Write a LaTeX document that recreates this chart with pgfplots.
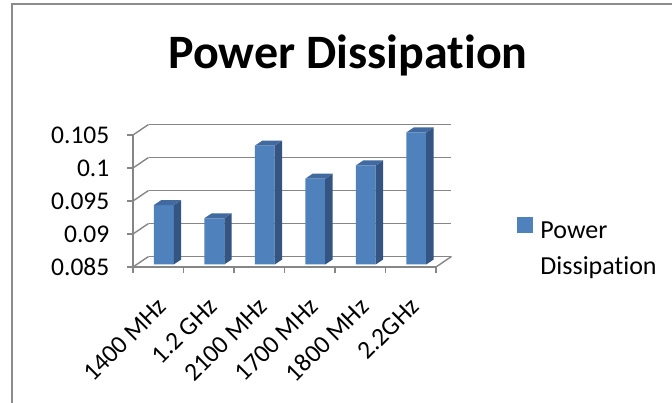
\documentclass[border=0pt]{standalone}
\usepackage{pgfplots}
\pgfplotsset{compat=1.18}
\usepackage{fontspec}
\setmainfont{Carlito}[Ligatures=NoCommon]
\definecolor{gridcol}{RGB}{134,134,134}
\definecolor{framecol}{RGB}{140,140,140}
\definecolor{barfront}{RGB}{79,129,189}
\definecolor{barside}{RGB}{52,85,130}
\definecolor{bartop}{RGB}{64,106,160}
\pgfplotstableread{
x   y
0.5 0.094
1.5 0.092
2.5 0.103
3.5 0.098
4.5 0.100
5.5 0.105
}\powertable
\newcommand\barfaces[2]{%
  \pgfmathsetmacro\xl{#1-0.198}%
  \pgfmathsetmacro\xr{#1+0.198}%
  \pgfmathsetmacro\xrr{#1+0.3465}%
  \pgfmathsetmacro\xlr{#1-0.0495}%
  \pgfmathsetmacro\yt{#2+0.00076}%
  \edef\doit{%
    \noexpand\addplot[fill=barside, draw=none, forget plot] coordinates {(\xr,0.085) (\xrr,0.08576) (\xrr,\yt) (\xr,#2)};
    \noexpand\addplot[fill=bartop, draw=none, forget plot] coordinates {(\xl,#2) (\xr,#2) (\xrr,\yt) (\xlr,\yt)};
  }\doit}
\begin{document}
\begin{tikzpicture}
% back wall grid
\begin{axis}[at={(148.5bp,146.5bp)}, anchor=south west, scale only axis,
  width=303bp, height=132bp, xmin=0, xmax=6, ymin=0.085, ymax=0.105,
  enlargelimits=false, axis line style={draw=none}, xtick=\empty,
  ytick={0.085,0.09,0.095,0.1,0.105}, yticklabels={}, major tick length=0pt,
  ymajorgrids, grid style={gridcol, line width=1.4bp}]
\addplot[draw=none, forget plot] coordinates {(0,0.09)};
\end{axis}
% front plane: axes, ticks, side-wall lines, legend
\begin{axis}[at={(133bp,136bp)}, anchor=south west, scale only axis,
  width=303bp, height=132bp, xmin=0, xmax=6, ymin=0.085, ymax=0.105,
  enlargelimits=false, clip=false,
  axis x line*=bottom, axis y line*=left,
  axis line style={gridcol, line width=1.4bp, -},
  tick style={gridcol, line width=1.4bp}, tick align=outside, major tick length=5.5bp,
  xtick={0,1,2,3,4,5,6}, x tick label as interval,
  xticklabels={1400 MHz,1.2 GHz,2100 MHz,1700 MHz,1800 MHz,2.2GHz},
  xticklabel style={xshift=4bp, font=\fontsize{25.5bp}{30bp}\selectfont, rotate=45, anchor=east, inner sep=0pt},
  xticklabel shift=30bp,
  ytick={0.085,0.09,0.095,0.1,0.105},
  yticklabels={0.085,0.09,0.095,0.1,0.105},
  yticklabel style={font=\fontsize{25.5bp}{30bp}\selectfont, anchor=east, inner sep=0pt},
  yticklabel shift=18bp,
  legend style={draw=none, fill=none, inner sep=0pt, at={(1.267,0.38)}, anchor=north west,
    font=\fontsize{26bp}{31bp}\selectfont, row sep=12bp, nodes={inner sep=2bp}},
  legend cell align=left]
\addlegendimage{legend image code/.code={\fill[barfront] (0bp,-1bp) rectangle (15bp,14bp);}}
\addlegendentry{\hspace{6bp}Power}
\addlegendimage{empty legend}
\addlegendentry{\hspace{6bp}Dissipation}
\pgfplotsinvokeforeach{0.085,0.09,0.095,0.1,0.105}{
  \draw[gridcol, line width=1.4bp] (axis cs:0,#1) -- ++(15.5bp,10.5bp);
}
\draw[gridcol, line width=1.4bp] (axis cs:6,0.085) -- ++(15.5bp,10.5bp);
\end{axis}
% bars (plane in the middle of the depth)
\begin{axis}[at={(138.5bp,138.5bp)}, anchor=south west, scale only axis,
  width=303bp, height=141.9bp, xmin=0, xmax=6, ymin=0.085, ymax=0.1065,
  enlargelimits=false, hide axis]
\addplot[ybar, bar width=0.396, fill=barfront, draw=none] table[x=x, y=y] {\powertable};
\barfaces{0.5}{0.094}
\barfaces{1.5}{0.092}
\barfaces{2.5}{0.103}
\barfaces{3.5}{0.098}
\barfaces{4.5}{0.100}
\barfaces{5.5}{0.105}
\end{axis}
\node[font=\bfseries\fontsize{48bp}{52bp}\selectfont, anchor=base] at (348bp,334bp) {Power Dissipation};
\draw[framecol, line width=1.5bp] (12bp,-2bp) -- (12bp,399bp) -- (674bp,399bp);
\pgfresetboundingbox
\path[use as bounding box] (0,0) rectangle (672bp,403bp);
\end{tikzpicture}
\end{document}
